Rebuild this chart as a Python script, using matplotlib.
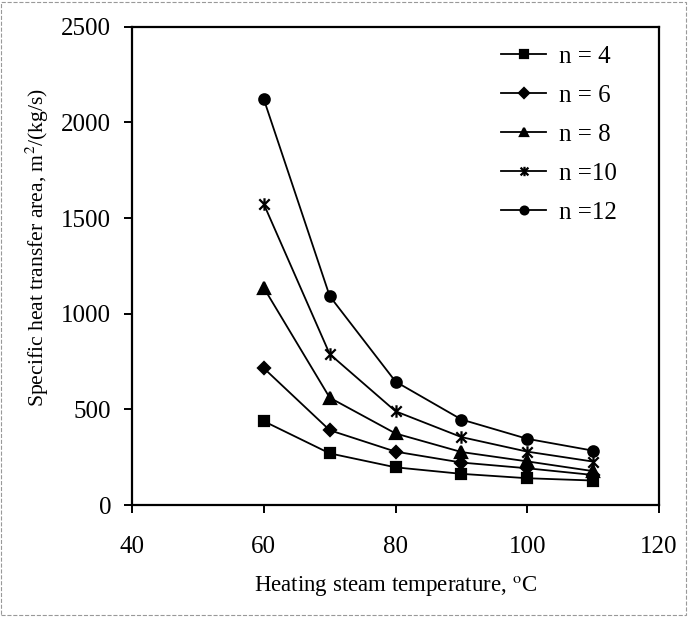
import matplotlib
matplotlib.use('Agg')
import matplotlib.pyplot as plt
from matplotlib.patches import Rectangle
from matplotlib.path import Path

plt.rcParams['font.family'] = ['Liberation Serif', 'DejaVu Serif']
plt.rcParams['mathtext.fontset'] = 'stix'

# Heating steam temperature, degC
temperature = [60, 70, 80, 90, 100, 110]

# Specific heat transfer area, m2/(kg/s)
area_n4 = [438, 270, 197, 163, 140, 128]
area_n6 = [715, 391, 279, 222, 192, 157]
area_n8 = [1135, 561, 374, 277, 228, 177]
area_n10 = [1573, 789, 490, 355, 279, 227]
area_n12 = [2121, 1092, 645, 447, 346, 284]

labels = ['n = 4', 'n = 6', 'n = 8', 'n =10', 'n =12']

# Excel-style star: an x with a vertical bar through it
star = Path([(-1, -1), (1, 1), (-1, 1), (1, -1), (0, -1.2), (0, 1.2)],
            [Path.MOVETO, Path.LINETO, Path.MOVETO, Path.LINETO, Path.MOVETO, Path.LINETO])

markers = ['s', 'D', '^', star, 'o']
sizes = [7, 6.5, 8, 9, 7.5]

fig = plt.figure(figsize=(6.88, 6.17), dpi=100)
ax = fig.add_axes([0.192, 0.1815, 0.766, 0.775])

series = [area_n4, area_n6, area_n8, area_n10, area_n12]
for values, label, marker, ms in zip(series, labels, markers, sizes):
    ax.plot(temperature, values, color='black', linewidth=1.3, marker=marker,
            markersize=ms, markeredgewidth=1.6, label=label)

ax.set_xlim(40, 120)
ax.set_ylim(0, 2500)
ax.set_xticks([40, 60, 80, 100, 120])
ax.set_yticks([0, 500, 1000, 1500, 2000, 2500])
ax.tick_params(direction='out', length=6, width=1.4, labelsize=18)
ax.tick_params(axis='x', pad=16)
ax.tick_params(axis='y', pad=9)
for spine in ax.spines.values():
    spine.set_linewidth(1.6)

ax.set_xlabel('Heating steam temperature, $^{\\mathrm{o}}$C', fontsize=16.5, labelpad=12)
ax.set_ylabel('Specific heat transfer area, m$^{2}$/(kg/s)', fontsize=15.6)
ax.yaxis.set_label_coords(-0.154, 0.539)

ax.legend(loc='upper left', frameon=False, fontsize=18, handlelength=1.8,
          labelspacing=0.66, bbox_to_anchor=(0.70, 0.962), borderaxespad=0,
          borderpad=0, handletextpad=0.5, markerscale=0.75)

# faint dashed frame around the figure, as in the scanned original
fig.patches.append(Rectangle((0.002, 0.003), 0.995, 0.994, transform=fig.transFigure,
                             fill=False, edgecolor='#999999', linewidth=0.8,
                             linestyle='--'))

fig.savefig('out.png', dpi=100)
